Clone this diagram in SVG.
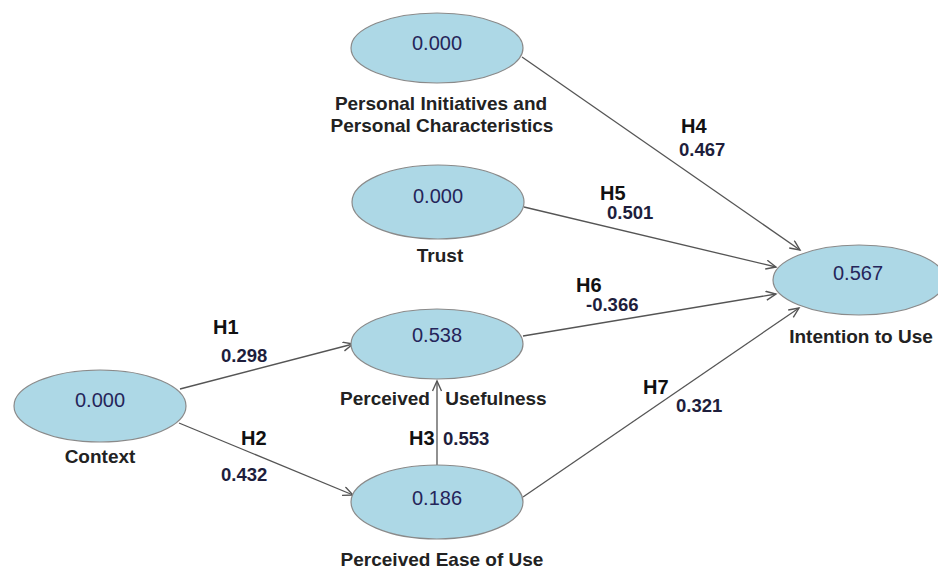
<svg xmlns="http://www.w3.org/2000/svg" width="938" height="571" viewBox="0 0 938 571">
<style>
.node ellipse{fill:#add8e6;stroke:#8a8a8a;stroke-width:1.2}
.val{font-family:"Liberation Sans",Arial,sans-serif;font-size:20px;fill:#25255a;text-anchor:middle}
.lbl{font-family:"Liberation Sans",Arial,sans-serif;font-size:19px;font-weight:bold;fill:#222;text-anchor:middle}
.hyp{font-family:"Liberation Sans",Arial,sans-serif;font-size:20px;font-weight:bold;fill:#111}
.coef{font-family:"Liberation Sans",Arial,sans-serif;font-size:18.5px;font-weight:bold;fill:#1e1e3c}
.edge line{stroke:#555;stroke-width:1.3;marker-end:url(#arr)}
</style>
<defs>
<marker id="arr" markerUnits="userSpaceOnUse" markerWidth="14" markerHeight="12" refX="11" refY="5" orient="auto">
<path d="M1,0.5 L11,5 L1,9.5" fill="none" stroke="#555" stroke-width="1.4"/>
</marker>
</defs>
<rect width="938" height="571" fill="#fff"/>
<g id="connectors" class="edge">
<line x1="180" y1="389" x2="353" y2="344"/>
<line x1="179" y1="423" x2="353" y2="495"/>
<line x1="437" y1="466" x2="437" y2="381"/>
<line x1="522" y1="57" x2="800" y2="250"/>
<line x1="524" y1="207" x2="776" y2="267"/>
<line x1="523" y1="336" x2="776" y2="294"/>
<line x1="523" y1="497" x2="799" y2="308"/>
</g>
<g id="edge-labels">
<text class="hyp" x="213" y="334">H1</text>
<text class="coef" x="221" y="362">0.298</text>
<text class="hyp" x="241" y="445">H2</text>
<text class="coef" x="221" y="481">0.432</text>
<text class="hyp" x="409" y="445">H3</text>
<text class="coef" x="443" y="445">0.553</text>
<text class="hyp" x="681" y="133">H4</text>
<text class="coef" x="679" y="156">0.467</text>
<text class="hyp" x="600" y="200">H5</text>
<text class="coef" x="607" y="219">0.501</text>
<text class="hyp" x="576" y="292">H6</text>
<text class="coef" x="586" y="311">-0.366</text>
<text class="hyp" x="643" y="394">H7</text>
<text class="coef" x="676" y="412">0.321</text>
</g>
<g id="pipc" class="node">
<ellipse cx="437" cy="48" rx="86" ry="35"/>
<text class="val" x="437" y="50">0.000</text>
<text class="lbl" x="441" y="110">Personal Initiatives and</text>
<text class="lbl" x="442" y="132">Personal Characteristics</text>
</g>
<g id="trust" class="node">
<ellipse cx="438" cy="202" rx="86" ry="37"/>
<text class="val" x="438" y="203">0.000</text>
<text class="lbl" x="440" y="262">Trust</text>
</g>
<g id="pu" class="node">
<ellipse cx="437" cy="344" rx="86" ry="35"/>
<text class="val" x="437" y="342">0.538</text>
<text class="lbl" y="405"><tspan x="385">Perceived</tspan><tspan x="496">Usefulness</tspan></text>
</g>
<g id="peou" class="node">
<ellipse cx="437" cy="502" rx="86" ry="37"/>
<text class="val" x="437" y="505">0.186</text>
<text class="lbl" x="442" y="566">Perceived Ease of Use</text>
</g>
<g id="context" class="node">
<ellipse cx="100" cy="406" rx="86" ry="36"/>
<text class="val" x="100" y="407">0.000</text>
<text class="lbl" x="100" y="463">Context</text>
</g>
<g id="intention" class="node">
<ellipse cx="859" cy="280" rx="86" ry="35"/>
<text class="val" x="858" y="280">0.567</text>
<text class="lbl" x="861" y="343">Intention to Use</text>
</g>
</svg>
